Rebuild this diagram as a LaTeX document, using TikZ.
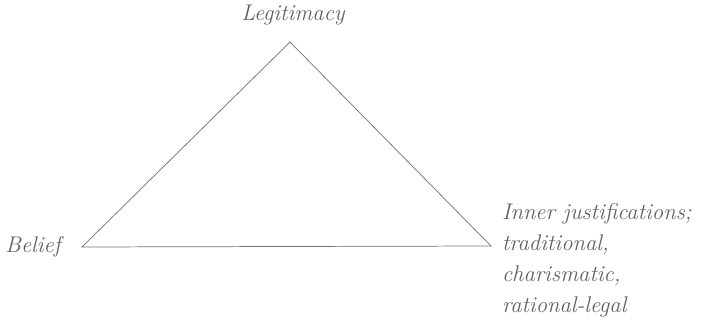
\documentclass[tikz,border=0pt]{standalone}
\usetikzlibrary{positioning}
\begin{document}
\begin{tikzpicture}[
    x=0.75pt, y=-0.75pt,
    font=\fontsize{17}{23.25}\selectfont\itshape,
    lbl/.style={text=black!62, inner sep=0pt, outer sep=0pt},
    side/.style={draw=black!55, line width=0.55pt, line join=miter},
]
\useasboundingbox (0,0) rectangle (703,328);

% --- corners of the triangle ---
\coordinate (top)   at (290,42);
\coordinate (left)  at (82,247);
\coordinate (right) at (491,246);

\draw[side] (top) -- (left) -- (right) -- cycle;

% --- labels ---
\node[lbl] (legit) at (293,15) {Legitimacy};
\node[lbl, left=16pt of left] (belief) {Belief};
\node[lbl, align=left, anchor=north west] (inner) at (502,204)
    {Inner justifications;\\ traditional,\\ charismatic,\\ rational-legal};

\end{tikzpicture}
\end{document}
